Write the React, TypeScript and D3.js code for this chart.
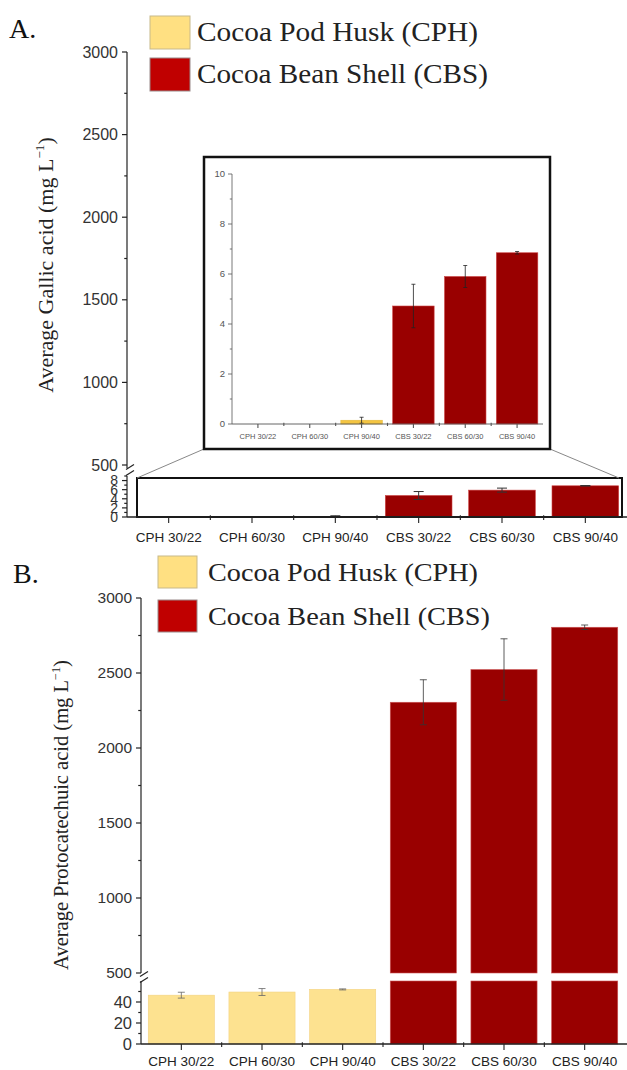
import React from "react";
import * as d3 from "d3";

const categories = ["CPH 30/22", "CPH 60/30", "CPH 90/40", "CBS 30/22", "CBS 60/30", "CBS 90/40"];
const groups = ["CPH", "CPH", "CPH", "CBS", "CBS", "CBS"];
const gallicMean = [0, 0, 0.15, 4.72, 5.9, 6.85];
const gallicErr = [0, 0, 0.12, 0.87, 0.44, 0.05];
const protoMean = [46.5, 49.5, 52, 2305, 2523, 2805];
const protoErr = [2.8, 3.3, 0.5, 150, 205, 15];

const upperTicks = [500, 1000, 1500, 2000, 2500, 3000];
const upperMinor = [750, 1250, 1750, 2250, 2750];
const gallicLowTicks = [0, 2, 4, 6, 8];
const gallicLowMinor = [1, 3, 5, 7, 9];
const insetTicks = [0, 2, 4, 6, 8, 10];
const insetMinor = [1, 3, 5, 7, 9];
const protoLowTicks = [0, 20, 40];
const protoLowMinor = [10, 30, 50];
const legendLabels = ["Cocoa Pod Husk (CPH)", "Cocoa Bean Shell (CBS)"];

const SERIF = "'Liberation Serif', 'Times New Roman', serif";
const SANS = "'Liberation Sans', Arial, sans-serif";
const RED = "#990000";
const YEL = "#FDE290";

function YAxis({ scale, x, major, minor, fs, len = 5, color = "#222", labelColor = "#333", dx = 4, sw = 1.2 }: any) {
  const [r0, r1] = scale.range();
  return (
    <g>
      <line x1={x} x2={x} y1={r0} y2={r1} stroke={color} strokeWidth={sw} />
      {major.map((t: number) => (
        <g key={"M" + t}>
          <line x1={x - len} x2={x} y1={scale(t)} y2={scale(t)} stroke={color} strokeWidth={sw} />
          <text x={x - len - dx} y={scale(t)} dy="0.35em" textAnchor="end" fontFamily={SANS} fontSize={fs} fill={labelColor}>
            {t}
          </text>
        </g>
      ))}
      {minor.map((t: number) => (
        <line key={"m" + t} x1={x - len * 0.55} x2={x} y1={scale(t)} y2={scale(t)} stroke={color} strokeWidth={sw} />
      ))}
    </g>
  );
}

function XAxis({ scale, y, x0, x1, fs, len = 6, ly, color = "#222", labelColor = "#222", sw = 1.5 }: any) {
  const step = scale.step();
  const r = scale.range();
  const bounds = d3.range(1, categories.length).map((i) => r[0] + i * step);
  return (
    <g>
      <line x1={x0} x2={x1} y1={y} y2={y} stroke={color} strokeWidth={sw} />
      {categories.map((c) => {
        const cx = (scale(c) as number) + scale.bandwidth() / 2;
        return (
          <g key={c}>
            <line x1={cx} x2={cx} y1={y} y2={y + len} stroke={color} strokeWidth={1.1} />
            <text x={cx} y={ly} textAnchor="middle" fontFamily={SANS} fontSize={fs} fill={labelColor}>
              {c}
            </text>
          </g>
        );
      })}
      {bounds.map((b) => (
        <line key={b} x1={b} x2={b} y1={y - len * 0.3} y2={y + len * 0.5} stroke={color} strokeWidth={1.1} />
      ))}
    </g>
  );
}

function ErrBar({ cx, yTop, yBot, w, color, sw = 1 }: any) {
  return (
    <g stroke={color} strokeWidth={sw}>
      <line x1={cx} x2={cx} y1={yTop} y2={yBot} />
      <line x1={cx - w / 2} x2={cx + w / 2} y1={yTop} y2={yTop} />
      <line x1={cx - w / 2} x2={cx + w / 2} y1={yBot} y2={yBot} />
    </g>
  );
}

function BreakMarks({ x, ys }: any) {
  return (
    <g stroke="#222" strokeWidth={1.2}>
      {ys.map((y: number) => (
        <line key={y} x1={x - 3} x2={x + 5} y1={y + 2.5} y2={y - 2.5} />
      ))}
    </g>
  );
}

function YTitle({ x, y, main, fs }: any) {
  return (
    <text transform={`translate(${x},${y}) rotate(-90)`} textAnchor="middle" fontFamily={SERIF} fontSize={fs} fill="#222">
      {main} (mg L
      <tspan fontSize={fs * 0.6} dy={-fs * 0.4}>−1</tspan>
      <tspan dy={fs * 0.4}>)</tspan>
    </text>
  );
}

function Legend({ x, y1, y2, w, h, tx, fs, lens }: any) {
  return (
    <g>
      <rect x={x} y={y1} width={w} height={h} fill="#FFE082" stroke="#c8b98a" strokeWidth={1} />
      <rect x={x} y={y2} width={w} height={h} fill="#C00000" stroke="#9a8a8a" strokeWidth={1} />
      <text x={tx} y={y1 + h / 2} dy="0.33em" fontFamily={SERIF} fontSize={fs} fill="#222" textLength={lens[0]} lengthAdjust="spacingAndGlyphs">
        {legendLabels[0]}
      </text>
      <text x={tx} y={y2 + h / 2} dy="0.33em" fontFamily={SERIF} fontSize={fs} fill="#222" textLength={lens[1]} lengthAdjust="spacingAndGlyphs">
        {legendLabels[1]}
      </text>
    </g>
  );
}

export default function App() {
  // Panel A
  const xA = d3.scaleBand<string>().domain(categories).range([127, 627]).paddingInner(0.2).paddingOuter(0.1);
  const yAUp = d3.scaleLinear().domain([500, 3000]).range([465, 52]);
  const yALow = d3.scaleLinear().domain([0, 9]).range([517, 476]);
  // Inset
  const xI = d3.scaleBand<string>().domain(categories).range([232, 543]).paddingInner(0.2).paddingOuter(0.1);
  const yI = d3.scaleLinear().domain([0, 10]).range([424, 174]);
  // Panel B
  const xB = d3.scaleBand<string>().domain(categories).range([141, 625]).paddingInner(0.18).paddingOuter(0.09);
  const yBUp = d3.scaleLinear().domain([500, 3000]).range([973, 598]);
  const yBLow = d3.scaleLinear().domain([0, 60]).range([1044, 981]);

  const insetBox = { x: 204, y: 157, w: 346, h: 292 };
  const lowBox = { x: 137, y: 478, w: 485, h: 39 };

  return (
    <svg width={627} height={1070} style={{ position: "absolute", left: 0, top: 0, background: "#fff" }}>
      <rect width={627} height={1070} fill="#fff" />
      {/* ---------------- Panel A ---------------- */}
      <text x={9} y={38} fontFamily={SERIF} fontSize={28} fill="#111">A.</text>
      <Legend x={150} y1={16} y2={58} w={40} h={33} tx={197} fs={27} lens={[281, 291]} />
      <YTitle x={53} y={265} main="Average  Gallic acid" fs={22} />

      <YAxis scale={yAUp} x={127} major={upperTicks} minor={upperMinor} fs={16} len={5} dx={4} />
      <YAxis scale={yALow} x={127} major={gallicLowTicks} minor={gallicLowMinor} fs={14} len={5} dx={4} />
      <line x1={127} x2={127} y1={465} y2={468} stroke="#222" strokeWidth={1.2} />
      <BreakMarks x={129} ys={[467, 473]} />

      {/* lower segment bars */}
      {categories.map((c, i) => {
        const v = gallicMean[i];
        if (v <= 0) return null;
        const x = xA(c) as number;
        return (
          <rect key={c} x={x} y={yALow(v)} width={xA.bandwidth()} height={yALow(0) - yALow(v)}
            fill={groups[i] === "CBS" ? RED : "#F4C542"} stroke={groups[i] === "CBS" ? "#c44" : "#e0b030"} strokeWidth={0.6} />
        );
      })}
      {categories.map((c, i) => {
        if (gallicErr[i] <= 0) return null;
        const cx = (xA(c) as number) + xA.bandwidth() / 2;
        return <ErrBar key={c} cx={cx} yTop={yALow(gallicMean[i] + gallicErr[i])} yBot={yALow(gallicMean[i] - gallicErr[i])} w={10} color="#333" sw={1} />;
      })}
      <rect x={lowBox.x} y={lowBox.y} width={lowBox.w} height={lowBox.h} fill="none" stroke="#111" strokeWidth={2} />
      <XAxis scale={xA} y={517} x0={127} x1={627} fs={13.5} len={6} ly={542} />

      {/* zoom connectors */}
      <line x1={insetBox.x} y1={insetBox.y + insetBox.h} x2={lowBox.x} y2={lowBox.y} stroke="#888" strokeWidth={1} />
      <line x1={insetBox.x + insetBox.w} y1={insetBox.y + insetBox.h} x2={lowBox.x + lowBox.w - 3} y2={lowBox.y} stroke="#888" strokeWidth={1} />

      {/* inset */}
      <rect x={insetBox.x} y={insetBox.y} width={insetBox.w} height={insetBox.h} fill="#fff" stroke="#111" strokeWidth={2.5} />
      {categories.map((c, i) => {
        const v = gallicMean[i];
        if (v <= 0) return null;
        const x = xI(c) as number;
        return (
          <rect key={c} x={x} y={yI(v)} width={xI.bandwidth()} height={yI(0) - yI(v)}
            fill={groups[i] === "CBS" ? RED : "#F4C542"} stroke={groups[i] === "CBS" ? "#c44" : "#e6b83a"} strokeWidth={0.6} />
        );
      })}
      {categories.map((c, i) => {
        if (gallicErr[i] <= 0) return null;
        const cx = (xI(c) as number) + xI.bandwidth() / 2;
        return <ErrBar key={c} cx={cx} yTop={yI(gallicMean[i] + gallicErr[i])} yBot={yI(gallicMean[i] - gallicErr[i])} w={4} color="#222" sw={0.8} />;
      })}
      <YAxis scale={yI} x={232} major={insetTicks} minor={insetMinor} fs={9.5} len={4} dx={3} color="#555" labelColor="#555" sw={0.8} />
      <XAxis scale={xI} y={424} x0={232} x1={543} fs={7.5} len={4} ly={439} color="#555" labelColor="#555" sw={0.9} />

      {/* ---------------- Panel B ---------------- */}
      <text x={13} y={583} fontFamily={SERIF} fontSize={28} fill="#111">B.</text>
      <Legend x={158} y1={556} y2={600} w={39} h={32} tx={208} fs={26} lens={[270, 282]} />
      <YTitle x={68} y={815} main="Average  Protocatechuic acid" fs={20.5} />

      {/* bars upper segment */}
      {categories.map((c, i) => {
        const v = protoMean[i];
        if (v <= 500) return null;
        const x = xB(c) as number;
        return <rect key={c} x={x} y={yBUp(v)} width={xB.bandwidth()} height={yBUp(500) - yBUp(v)} fill={RED} stroke="#c55" strokeWidth={0.6} />;
      })}
      {/* bars lower segment */}
      {categories.map((c, i) => {
        const v = Math.min(protoMean[i], 60);
        const x = xB(c) as number;
        const cbs = groups[i] === "CBS";
        return <rect key={c} x={x} y={yBLow(v)} width={xB.bandwidth()} height={yBLow(0) - yBLow(v)} fill={cbs ? RED : YEL} stroke={cbs ? "#c55" : "#f3d380"} strokeWidth={0.6} />;
      })}
      {categories.map((c, i) => {
        const cx = (xB(c) as number) + xB.bandwidth() / 2;
        const m = protoMean[i];
        const e = protoErr[i];
        const sc = m > 500 ? yBUp : yBLow;
        return <ErrBar key={c} cx={cx} yTop={sc(m + e)} yBot={sc(m - e)} w={7} color={m > 500 ? "#333" : "#666"} sw={0.8} />;
      })}
      <YAxis scale={yBUp} x={141} major={upperTicks} minor={upperMinor} fs={15.5} len={5} dx={4} />
      <YAxis scale={yBLow} x={141} major={protoLowTicks} minor={protoLowMinor} fs={16.5} len={5} dx={4} />
      <BreakMarks x={143} ys={[974, 980]} />
      <XAxis scale={xB} y={1044} x0={141} x1={627} fs={13.5} len={6} ly={1066} />
    </svg>
  );
}
